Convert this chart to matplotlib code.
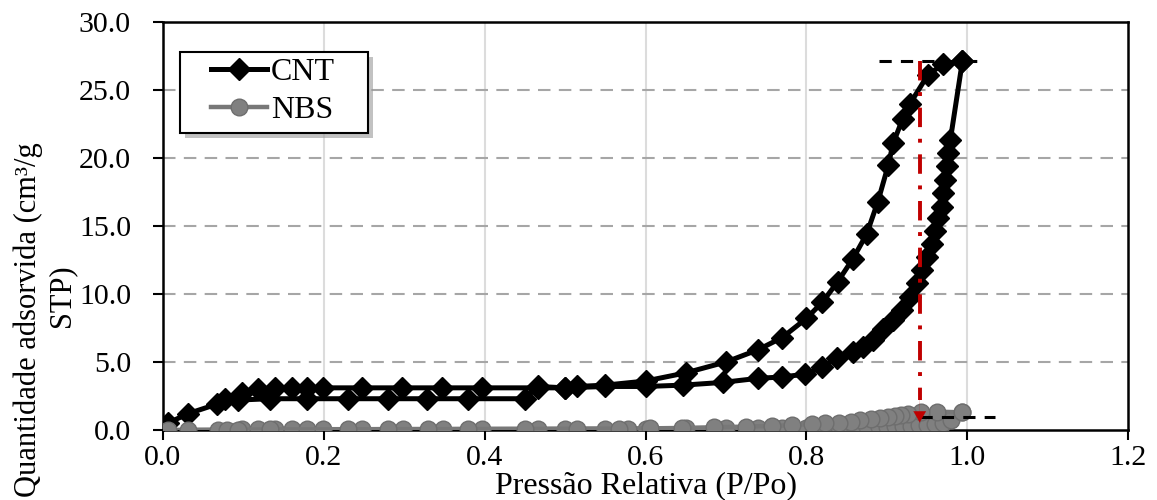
import matplotlib
matplotlib.use("Agg")
import matplotlib.pyplot as plt
from matplotlib.patches import Rectangle
from matplotlib.lines import Line2D

plt.rcParams['font.family'] = ['Liberation Serif', 'DejaVu Serif']

# ---- data ----
cnt_ads_p = [0.006, 0.031, 0.067, 0.077, 0.098, 0.118, 0.139, 0.160, 0.179, 0.199,
             0.247, 0.297, 0.347, 0.397, 0.466, 0.500, 0.550, 0.600, 0.647, 0.696,
             0.740, 0.770, 0.798, 0.819, 0.838, 0.858, 0.870, 0.883, 0.895, 0.908,
             0.919, 0.929, 0.938, 0.944, 0.950, 0.956, 0.960, 0.964, 0.969, 0.970,
             0.972, 0.975, 0.976, 0.979, 0.994]
cnt_ads_v = [0.5, 1.2, 1.9, 2.3, 2.7, 3.0, 3.1, 3.1, 3.1, 3.1,
             3.1, 3.1, 3.1, 3.1, 3.1, 3.1, 3.2, 3.2, 3.3, 3.5,
             3.8, 3.9, 4.1, 4.6, 5.3, 5.7, 6.1, 6.6, 7.4, 8.1,
             8.8, 9.8, 10.8, 11.8, 12.7, 13.7, 14.6, 15.6, 16.4, 17.4,
             18.4, 19.4, 20.4, 21.3, 27.1]

cnt_des_p = [0.994, 0.970, 0.951, 0.929, 0.920, 0.908, 0.902, 0.889, 0.875, 0.858,
             0.839, 0.820, 0.800, 0.770, 0.740, 0.700, 0.650, 0.600, 0.550, 0.515,
             0.500, 0.466, 0.450, 0.379, 0.328, 0.280, 0.230, 0.179, 0.133, 0.093]
cnt_des_v = [27.1, 26.9, 26.1, 24.0, 22.9, 21.1, 19.5, 16.8, 14.4, 12.6,
             10.9, 9.4, 8.2, 6.8, 5.9, 5.0, 4.2, 3.6, 3.3, 3.2,
             3.1, 3.2, 2.3, 2.3, 2.3, 2.3, 2.3, 2.3, 2.3, 2.2]

nbs_ads_p = [0.006, 0.031, 0.068, 0.080, 0.098, 0.118, 0.139, 0.160, 0.179, 0.199,
             0.247, 0.298, 0.348, 0.397, 0.466, 0.500, 0.550, 0.600, 0.650, 0.700,
             0.740, 0.770, 0.800, 0.820, 0.840, 0.860, 0.875, 0.890, 0.900, 0.910,
             0.920, 0.930, 0.940, 0.950, 0.960, 0.970, 0.980, 0.994]
nbs_ads_v = [0.00, 0.02, 0.03, 0.03, 0.04, 0.04, 0.05, 0.05, 0.05, 0.06,
             0.06, 0.07, 0.07, 0.08, 0.08, 0.09, 0.10, 0.11, 0.12, 0.13,
             0.14, 0.15, 0.17, 0.18, 0.19, 0.21, 0.22, 0.24, 0.25, 0.27,
             0.29, 0.31, 0.34, 0.38, 0.43, 0.52, 0.70, 1.30]

nbs_des_p = [0.994, 0.962, 0.943, 0.927, 0.918, 0.910, 0.902, 0.892, 0.880, 0.867,
             0.855, 0.840, 0.823, 0.807, 0.782, 0.757, 0.725, 0.685, 0.645, 0.605,
             0.578, 0.567, 0.515, 0.450, 0.379, 0.330, 0.280, 0.230, 0.133, 0.093]
nbs_des_v = [1.30, 1.35, 1.30, 1.15, 1.10, 1.05, 0.95, 0.90, 0.80, 0.70,
             0.60, 0.55, 0.50, 0.45, 0.35, 0.30, 0.25, 0.20, 0.15, 0.12,
             0.10, 0.10, 0.09, 0.08, 0.07, 0.06, 0.06, 0.05, 0.04, 0.03]

x_ticks = [0.0, 0.2, 0.4, 0.6, 0.8, 1.0, 1.2]
y_ticks = [0.0, 5.0, 10.0, 15.0, 20.0, 25.0, 30.0]

# annotation values
p_mark = 0.941
v_top = 27.1
v_bot = 0.95

W, H = 1157, 500
fig = plt.figure(figsize=(W/100, H/100), dpi=100)
ax = fig.add_axes([163/W, 1-430/H, (1128-163)/W, (430-22)/H])

# grid
for xv in x_ticks[1:-1]:
    ax.axvline(xv, color='#dcdcdc', lw=1.5, zorder=0)
for yv in y_ticks[1:-1]:
    ax.axhline(yv, color='#a6a6a6', lw=1.5, ls=(0, (6, 4)), zorder=0)

cnt_kw = dict(color='black', lw=3.6, marker='D', ms=11.5, mfc='black', mec='black', zorder=3)
ax.plot(cnt_ads_p, cnt_ads_v, label='CNT', **cnt_kw)
ax.plot(cnt_des_p, cnt_des_v, **cnt_kw)

nbs_kw = dict(color='#787878', lw=3.2, marker='o', ms=12, mfc='#808080', mec='#6e6e6e',
              mew=1.0, zorder=4)
ax.plot(nbs_ads_p, nbs_ads_v, label='NBS', **nbs_kw)
ax.plot(nbs_des_p, nbs_des_v, **nbs_kw)

# dashed guides
ax.plot([0.89, 1.015], [v_top, v_top], color='black', lw=2.2, ls=(0, (4, 3)), zorder=5)
ax.plot([p_mark, 1.035], [v_bot, v_bot], color='black', lw=2.2, ls=(0, (4, 3)), zorder=5)
# red dash-dot arrow
ax.plot([p_mark, p_mark], [v_top, 2.2], color='#c00000', lw=2.8, ls=(0, (5, 3, 1, 3)), zorder=6)
ax.annotate('', xy=(p_mark, 0.55), xytext=(p_mark, 2.2),
            arrowprops=dict(arrowstyle='-|>,head_length=0.8,head_width=0.45',
                            color='#c00000', lw=0.1, shrinkA=0, shrinkB=0), zorder=6)

ax.set_xlim(0, 1.2)
ax.set_ylim(0, 30)
ax.set_xticks(x_ticks)
ax.set_yticks(y_ticks)
ax.set_xticklabels([f'{v:.1f}' for v in x_ticks])
ax.set_yticklabels([f'{v:.1f}' for v in y_ticks])
ax.tick_params(axis='both', direction='out', length=7, width=1.5, labelsize=21.5,
               colors='black')
ax.tick_params(axis='x', pad=4)
ax.tick_params(axis='y', pad=16)
for s in ax.spines.values():
    s.set_color('black')
    s.set_linewidth(1.8)

# legend box (manual frame with shadow)
bx0, by0, bx1, by1 = 180, 52, 368, 133
shadow = Rectangle(((bx0+5)/W, 1-(by1+5)/H), (bx1-bx0)/W, (by1-by0)/H,
                   transform=fig.transFigure, facecolor='#9a9a9a', edgecolor='none',
                   alpha=0.6, zorder=9)
frame = Rectangle((bx0/W, 1-by1/H), (bx1-bx0)/W, (by1-by0)/H,
                  transform=fig.transFigure, facecolor='white', edgecolor='black',
                  lw=1.5, zorder=10)
fig.add_artist(shadow)
fig.add_artist(frame)
handles = [Line2D([], [], **{k: v for k, v in cnt_kw.items() if k != 'zorder'}),
           Line2D([], [], **{k: v for k, v in nbs_kw.items() if k != 'zorder'})]
leg = fig.legend(handles, ['CNT', 'NBS'], loc='upper left',
                 bbox_to_anchor=(211/W, 1-58/H), bbox_transform=fig.transFigure,
                 fontsize=23, frameon=False, handlelength=1.75, handletextpad=0.12,
                 borderpad=0, labelspacing=0.27, borderaxespad=0)
leg.set_zorder(11)

fig.text(28/W, 1-320/H, 'Quantidade adsorvida (cm³/g', rotation=90,
         ha='center', va='center', fontsize=22)
fig.text(62/W, 1-296/H, 'STP)', rotation=90, ha='center', va='center', fontsize=22)
fig.text(646/W, 1-486/H, 'Pressão Relativa (P/Po)', ha='center', va='center',
         fontsize=23)

fig.savefig('out.png', dpi=100)
